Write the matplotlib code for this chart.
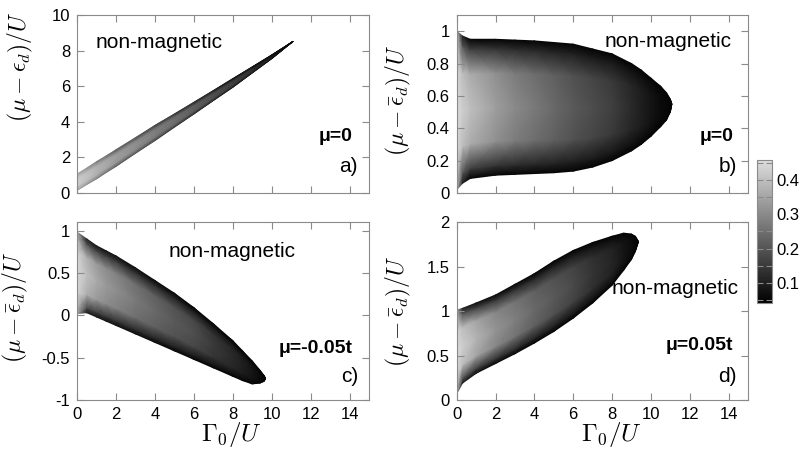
#imports
import numpy as np
import matplotlib
matplotlib.use('Agg')
import matplotlib.pyplot as plt
from matplotlib.colors import LinearSegmentedColormap
from matplotlib.ticker import MultipleLocator, FormatStrFormatter

plt.rcParams['font.family'] = ['Liberation Sans', 'DejaVu Sans']
plt.rcParams['mathtext.fontset'] = 'cm'
plt.rcParams['axes.unicode_minus'] = False

#data: boundaries of the magnetic region and moment values
gam_a = [0, 1, 2, 4, 6, 8, 10, 11.1]
hi_a = [1.05, 1.75, 2.42, 3.79, 5.09, 6.42, 7.75, 8.52]
lo_a = [0.15, 0.80, 1.50, 2.95, 4.44, 5.94, 7.55, 8.52]
mid_a = [0.43, 0.38, 0.34, 0.28, 0.22, 0.16, 0.09, 0.06]
edge_a = [0.35, 0.28, 0.22, 0.17, 0.12, 0.08, 0.06, 0.05]

gam_b = [0, 0.3, 0.7, 2, 3, 4, 5, 6, 7, 8, 9, 9.5, 10, 10.5, 10.8, 11.0, 11.08]
hi_b = [1.00, 0.97, 0.95, 0.95, 0.945, 0.94, 0.93, 0.92, 0.89, 0.86, 0.80, 0.76, 0.71, 0.66, 0.62, 0.58, 0.55]
lo_b = [0.02, 0.06, 0.09, 0.11, 0.115, 0.12, 0.125, 0.135, 0.16, 0.20, 0.26, 0.30, 0.35, 0.41, 0.45, 0.50, 0.55]
mid_b = [0.45, 0.43, 0.40, 0.34, 0.30, 0.27, 0.24, 0.21, 0.185, 0.16, 0.12, 0.10, 0.08, 0.06, 0.055, 0.05, 0.05]
edge_b = [0.40, 0.10, 0.05, 0.05, 0.05, 0.05, 0.05, 0.05, 0.05, 0.05, 0.05, 0.05, 0.05, 0.05, 0.05, 0.05, 0.05]

gam_c = [0, 0.5, 1, 1.5, 2, 3, 4, 5, 6, 7, 8, 8.5, 9, 9.4, 9.6, 9.69]
hi_c = [0.98, 0.90, 0.82, 0.76, 0.70, 0.56, 0.41, 0.26, 0.09, -0.10, -0.30, -0.42, -0.54, -0.65, -0.71, -0.745]
lo_c = [0.02, 0.03, -0.02, -0.07, -0.12, -0.22, -0.32, -0.42, -0.52, -0.62, -0.72, -0.77, -0.81, -0.80, -0.78, -0.745]
mid_c = [0.45, 0.40, 0.36, 0.33, 0.31, 0.27, 0.24, 0.21, 0.19, 0.15, 0.12, 0.10, 0.08, 0.06, 0.055, 0.05]
edge_c = [0.35, 0.10, 0.08, 0.075, 0.07, 0.065, 0.06, 0.055, 0.05, 0.05, 0.05, 0.05, 0.05, 0.05, 0.05, 0.05]

gam_d = [0, 0.3, 1, 2, 3, 4, 5, 6, 7, 8, 8.6, 9.0, 9.2, 9.36]
hi_d = [1.01, 1.03, 1.09, 1.18, 1.30, 1.42, 1.56, 1.68, 1.77, 1.84, 1.875, 1.865, 1.84, 1.78]
lo_d = [0.07, 0.19, 0.30, 0.41, 0.52, 0.64, 0.77, 0.92, 1.09, 1.29, 1.46, 1.58, 1.67, 1.78]
mid_d = [0.45, 0.43, 0.38, 0.32, 0.28, 0.24, 0.21, 0.18, 0.14, 0.11, 0.08, 0.065, 0.055, 0.05]
edge_d = [0.35, 0.10, 0.07, 0.06, 0.055, 0.05, 0.05, 0.05, 0.05, 0.05, 0.05, 0.05, 0.05, 0.05]

#shared profile across the band (lower edge -> upper edge)
frac = [0, 0.07, 0.25, 0.5, 0.75, 0.93, 1]
prof = [0, 0.3, 0.9, 1, 0.9, 0.3, 0]

cb_ticks = [0.1, 0.2, 0.3, 0.4]
vmin, vmax = 0.04, 0.46
cmap = LinearSegmentedColormap.from_list('gp_gray', ['#000000', '#dedede'])

#panel settings
panels = [
    dict(g=gam_a, hi=hi_a, lo=lo_a, mid=mid_a, edge=edge_a, pos=[0.0958, 0.5702, 0.3632, 0.3964],
         ylim=(0, 10), ystep=2, ylab=r'$(\mu-\epsilon_d)/U$', ylabpos=(-0.144, 0.71),
         nm=(0.062, 0.848, 'left'), mu='μ=0', mupos=(0.944, 0.316), tag='a)', tagy=0.148, xl=False),
    dict(g=gam_b, hi=hi_b, lo=lo_b, mid=mid_b, edge=edge_b, pos=[0.568, 0.5702, 0.3623, 0.3964],
         ylim=(0, 1.1), ystep=0.2, ylab=r'$(\mu-\bar{\epsilon}_d)/U$', ylabpos=(-0.15, 0.52),
         nm=(0.944, 0.85, 'right'), mu='μ=0', mupos=(0.95, 0.316), tag='b)', tagy=0.148, xl=False),
    dict(g=gam_c, hi=hi_c, lo=lo_c, mid=mid_c, edge=edge_c, pos=[0.0958, 0.1091, 0.3632, 0.3964],
         ylim=(-1, 1.1), ystep=0.5, ylab=r'$(\mu-\bar{\epsilon}_d)/U$', ylabpos=(-0.16, 0.52),
         nm=(0.313, 0.833, 'left'), mu='μ=-0.05t', mupos=(0.944, 0.287), tag='c)', tagy=0.131, xl=True),
    dict(g=gam_d, hi=hi_d, lo=lo_d, mid=mid_d, edge=edge_d, pos=[0.568, 0.1091, 0.3623, 0.3964],
         ylim=(0, 2), ystep=0.5, ylab=r'$(\mu-\bar{\epsilon}_d)/U$', ylabpos=(-0.15, 0.5),
         nm=(0.967, 0.628, 'right'), mu='μ=0.05t', mupos=(0.95, 0.305), tag='d)', tagy=0.131, xl=True),
]

fig = plt.figure(figsize=(8.04, 4.49), dpi=100)
frame = '#8a8a8a'

for p in panels:
    ax = fig.add_axes(p['pos'])
    g = np.array(p['g']); hi = np.array(p['hi']); lo = np.array(p['lo'])
    mid = np.array(p['mid']); edge = np.array(p['edge'])
    f = np.array(frac)[:, None]
    X = np.tile(g, (len(frac), 1))
    Y = lo[None, :] + f * (hi - lo)[None, :]
    C = edge[None, :] + np.array(prof)[:, None] * (mid - edge)[None, :]
    mesh = ax.pcolormesh(X, Y, C, shading='gouraud', cmap=cmap, vmin=vmin, vmax=vmax)

    ax.set_xlim(0, 15)
    ax.set_ylim(*p['ylim'])
    ax.xaxis.set_major_locator(MultipleLocator(2))
    ax.yaxis.set_major_locator(MultipleLocator(p['ystep']))
    ax.yaxis.set_major_formatter(FormatStrFormatter('%g'))
    ax.tick_params(direction='in', top=True, right=True, length=5, width=0.8,
                   color=frame, labelsize=12, pad=5)
    for s in ax.spines.values():
        s.set_color(frame)
    if p['xl']:
        ax.set_xlabel(r'$\Gamma_0/U$', fontsize=18)
        ax.xaxis.set_label_coords(0.53, -0.115)
    else:
        ax.tick_params(labelbottom=False)
    ax.set_ylabel(p['ylab'], fontsize=17)
    ax.yaxis.set_label_coords(*p['ylabpos'])

    nx_, ny_, ha = p['nm']
    ax.text(nx_, ny_, 'non-magnetic', transform=ax.transAxes, ha=ha, va='center', fontsize=15)
    ax.text(p['mupos'][0], p['mupos'][1], p['mu'], transform=ax.transAxes, ha='right', va='center',
            fontsize=14, fontweight='bold')
    ax.text(0.962, p['tagy'], p['tag'], transform=ax.transAxes, ha='right', va='center', fontsize=15)

#colorbar
cax = fig.add_axes([0.9415, 0.3252, 0.0187, 0.3185])
cb = fig.colorbar(mesh, cax=cax, ticks=cb_ticks)
cb.ax.yaxis.set_minor_locator(MultipleLocator(0.05))
cb.ax.tick_params(which='both', direction='in', left=True, right=True, length=4, width=0.8,
                  color=frame, labelsize=12)
cb.ax.yaxis.set_major_formatter(FormatStrFormatter('%g'))
cb.outline.set_edgecolor(frame)

plt.savefig('out.png', dpi=100)
